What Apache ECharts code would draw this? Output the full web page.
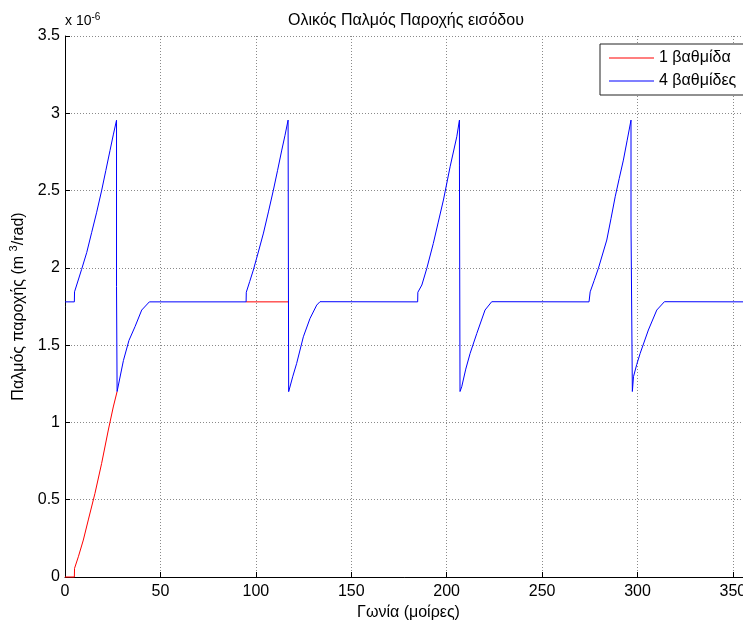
<!DOCTYPE html>
<html>
<head>
<meta charset="utf-8">
<script src="https://cdn.jsdelivr.net/npm/echarts@6/dist/echarts.min.js"></script>
<style>
  html, body { margin: 0; padding: 0; background: #fff; }
  #chart { width: 743px; height: 622px; }
</style>
</head>
<body>
<div id="chart"></div>
<script>
// Flow pulse values are in units of 1e-6 m^3/rad, angles in degrees.

// single-stage pump (null marks where its trace runs under the four-stage one)
const oneStageAngle = [0, 4.9, 5.0, 7.0, 9.6, 12.2, 15.7, 19.2, 22.7, 25.3, 27.3,
  60.0, 94.9, 117.0];
const oneStageFlow = [0, 0, 0.056, 0.131, 0.239, 0.369, 0.541, 0.735, 0.951, 1.10, 1.2,
  null, 1.78, 1.78];

// four-stage pump
const fourStageAngle = [
  0, 4.9, 5.0, 8.7, 11.4, 14.0, 16.6, 19.2, 21.4, 23.6, 25.3, 27.0, 27.0, 27.3, 30.6, 33.5, 36.7, 40.2, 44.2,
  94.9, 95.0, 96.8, 98.7, 101.3, 104.0, 106.6, 109.2, 111.4, 113.6, 115.3, 116.9, 117.2, 119.3, 121.4, 124.9, 128.4, 131.9, 133.6,
  184.8, 184.9, 187.0, 189.6, 193.0, 195.6, 198.3, 201.8, 205.3, 206.7, 206.7, 207.0, 207.9, 210.0, 212.3, 215.8, 220.1, 223.6,
  274.6, 275.2, 277.3, 279.5, 283.9, 286.1, 288.3, 290.4, 292.6, 294.6, 296.6, 296.6, 297.3, 297.9, 299.6, 301.4, 305.7, 310.1, 314.1, 360
];
const fourStageFlow = [
  1.78, 1.78, 1.845, 1.99, 2.10, 2.23, 2.36, 2.50, 2.63, 2.76, 2.86, 2.955, 1.88, 1.2, 1.40, 1.53, 1.62, 1.727, 1.78,
  1.78, 1.842, 1.912, 1.986, 2.102, 2.225, 2.362, 2.503, 2.631, 2.762, 2.858, 2.956, 1.199, 1.295, 1.382, 1.554, 1.673, 1.759, 1.781,
  1.78, 1.842, 1.889, 1.997, 2.158, 2.296, 2.439, 2.654, 2.848, 2.956, 2.665, 1.2, 1.231, 1.345, 1.447, 1.576, 1.727, 1.781,
  1.78, 1.845, 1.918, 1.997, 2.18, 2.318, 2.46, 2.577, 2.697, 2.826, 2.956, 2.277, 1.2, 1.296, 1.375, 1.447, 1.598, 1.727, 1.781, 1.78
];

const seriesNames = ['1 βαθμίδα', '4 βαθμίδες'];
const seriesColors = ['#ff0000', '#0000ff'];
const xTickStep = 50;
const yTickStep = 0.5;

const FONT = '"Liberation Sans", Arial, Helvetica, sans-serif';
const zip = (xs, ys) => xs.map((x, i) => (ys[i] === null ? [x, null] : [x, ys[i]]));

const gridLine = { show: true, lineStyle: { color: '#8a8a8a', width: 1, type: [1, 2] } };
// thin horizontal bar used as the legend key
const legendKey = 'path://M0,0 L45,0 L45,1 L0,1 Z';

const chart = echarts.init(document.getElementById('chart'), null, { renderer: 'canvas' });
chart.setOption({
  animation: false,
  backgroundColor: '#fff',
  textStyle: { fontFamily: FONT },
  grid: { left: 65, top: 36, width: 687, height: 541, outerBoundsMode: 'none', containLabel: false },
  legend: {
    data: seriesNames.map((n, i) => ({ name: n, icon: legendKey, itemStyle: { color: seriesColors[i] } })),
    orient: 'vertical',
    left: 600,
    top: 44,
    padding: [6, 40, 6, 9],
    itemWidth: 45,
    itemHeight: 14,
    itemGap: 7,
    backgroundColor: '#fff',
    borderColor: '#222',
    borderWidth: 1,
    textStyle: { fontFamily: FONT, fontSize: 16, color: '#000' }
  },
  xAxis: {
    type: 'value',
    min: 0,
    max: 360,
    interval: xTickStep,
    name: 'Γωνία (μοίρες)',
    nameLocation: 'middle',
    nameGap: 21,
    nameTextStyle: { fontFamily: FONT, fontSize: 16, color: '#000' },
    axisLine: { show: true, onZero: false, lineStyle: { color: '#000', width: 1 } },
    axisTick: { show: true, inside: true, length: 5, lineStyle: { color: '#000' } },
    axisLabel: {
      fontFamily: FONT, fontSize: 16, color: '#000', margin: 7,
      showMinLabel: true, showMaxLabel: false,
      formatter: v => (v % xTickStep === 0 ? String(v) : '')
    },
    splitLine: gridLine
  },
  yAxis: {
    type: 'value',
    min: 0,
    max: 3.5,
    interval: yTickStep,
    name: 'Παλμός παροχής (m {sup|3}/rad)',
    nameLocation: 'middle',
    nameGap: 30,
    nameTextStyle: {
      fontFamily: FONT, fontSize: 16, color: '#000',
      rich: { sup: { fontFamily: FONT, fontSize: 11, color: '#000', padding: [0, 0, 9, 0] } }
    },
    axisLine: { show: true, onZero: false, lineStyle: { color: '#000', width: 1 } },
    axisTick: { show: true, inside: true, length: 5, lineStyle: { color: '#000' } },
    axisLabel: { fontFamily: FONT, fontSize: 16, color: '#000', margin: 5,
      showMinLabel: true, showMaxLabel: true },
    splitLine: gridLine
  },
  graphic: [
    {
      type: 'text',
      x: 406,
      y: 21,
      style: {
        text: 'Ολικός Παλμός Παροχής εισόδου',
        font: '16px ' + FONT,
        fill: '#000',
        align: 'center',
        verticalAlign: 'middle'
      }
    },
    {
      type: 'text',
      left: 65,
      top: 12,
      style: {
        text: 'x 10{sup|-6}',
        font: '14px ' + FONT,
        fill: '#000',
        rich: { sup: { fontSize: 10, fill: '#000', padding: [0, 0, 8, 0] } }
      }
    }
  ],
  series: [
    {
      name: seriesNames[0],
      type: 'line',
      data: zip(oneStageAngle, oneStageFlow),
      connectNulls: false,
      symbol: 'none',
      showSymbol: false,
      clip: false,
      color: seriesColors[0],
      lineStyle: { color: seriesColors[0], width: 1 },
      z: 2
    },
    {
      name: seriesNames[1],
      type: 'line',
      data: zip(fourStageAngle, fourStageFlow),
      symbol: 'none',
      showSymbol: false,
      clip: false,
      color: seriesColors[1],
      lineStyle: { color: seriesColors[1], width: 1 },
      z: 3
    }
  ]
});
</script>
</body>
</html>
